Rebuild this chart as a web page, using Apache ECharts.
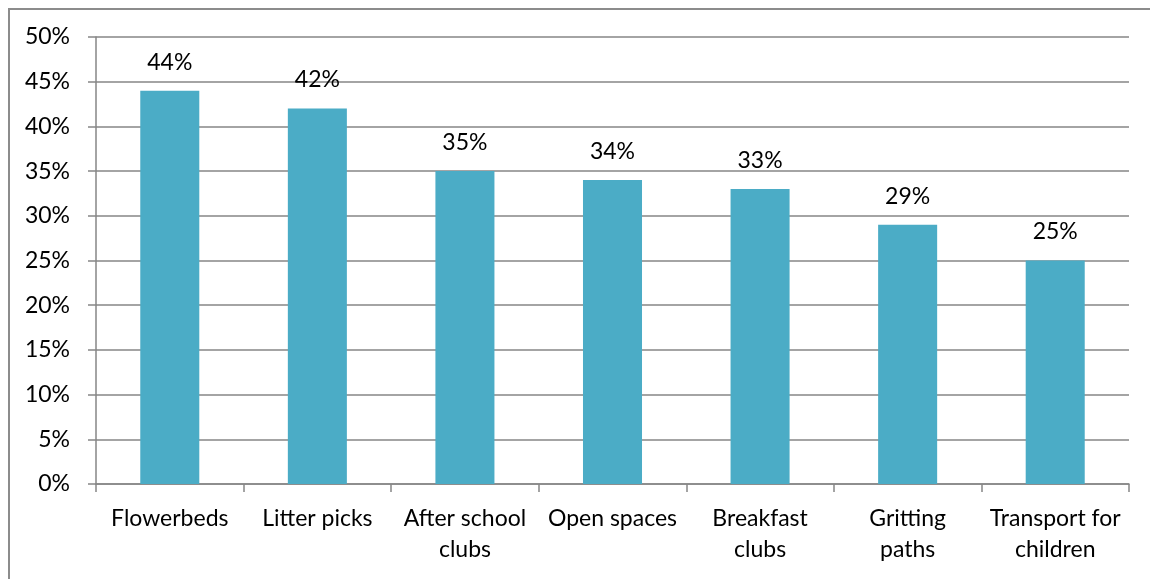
<!DOCTYPE html>
<html>
<head>
<meta charset="utf-8">
<style>
html, body { margin: 0; padding: 0; background: #fff; }
#frame {
  position: absolute; left: 8px; top: 8px; width: 1150px; height: 579px;
  border-left: 2px solid #8c8c8c; border-top: 2px solid #8c8c8c;
}
#myChart { position: absolute; left: 0; top: 0; width: 1150px; height: 579px; }
</style>
<script src="https://cdn.jsdelivr.net/npm/echarts@6/dist/echarts.min.js"></script>
</head>
<body>
<div id="frame"></div>
<div id="myChart"></div>
<script>
const categories = ['Flowerbeds', 'Litter picks', 'After school\nclubs', 'Open spaces', 'Breakfast\nclubs', 'Gritting\npaths', 'Transport for\nchildren']
const values = [44, 42, 35, 34, 33, 29, 25]

const font = 'Lato, Carlito, "Open Sans", sans-serif'
let myChart = echarts.init(document.getElementById('myChart'))
myChart.setOption({
  animation: false,
  grid: { left: 96, right: 21, top: 37, bottom: 95 },
  xAxis: {
    type: 'category',
    data: categories,
    axisLine: { lineStyle: { color: '#868686', width: 1.5 } },
    axisTick: { show: true, length: 8, lineStyle: { color: '#868686', width: 1.5 } },
    axisLabel: { color: '#000', fontSize: 23, fontFamily: font, lineHeight: 31, margin: 19, interval: 0 }
  },
  yAxis: {
    type: 'value',
    min: 0,
    max: 50,
    interval: 5,
    axisLine: { show: true, lineStyle: { color: '#868686', width: 1.5 } },
    axisTick: { show: true, length: 8, lineStyle: { color: '#868686', width: 1.5 } },
    splitLine: { lineStyle: { color: '#868686', width: 1.5 } },
    axisLabel: { color: '#000', fontSize: 23, fontFamily: font, margin: 26, formatter: '{value}%' }
  },
  series: [{
    type: 'bar',
    data: values,
    barWidth: '40%',
    itemStyle: { color: '#4BACC6' },
    label: {
      show: true, position: 'top', distance: 17,
      color: '#000', fontSize: 23, fontFamily: font, formatter: '{c}%'
    }
  }]
})
</script>
</body>
</html>
